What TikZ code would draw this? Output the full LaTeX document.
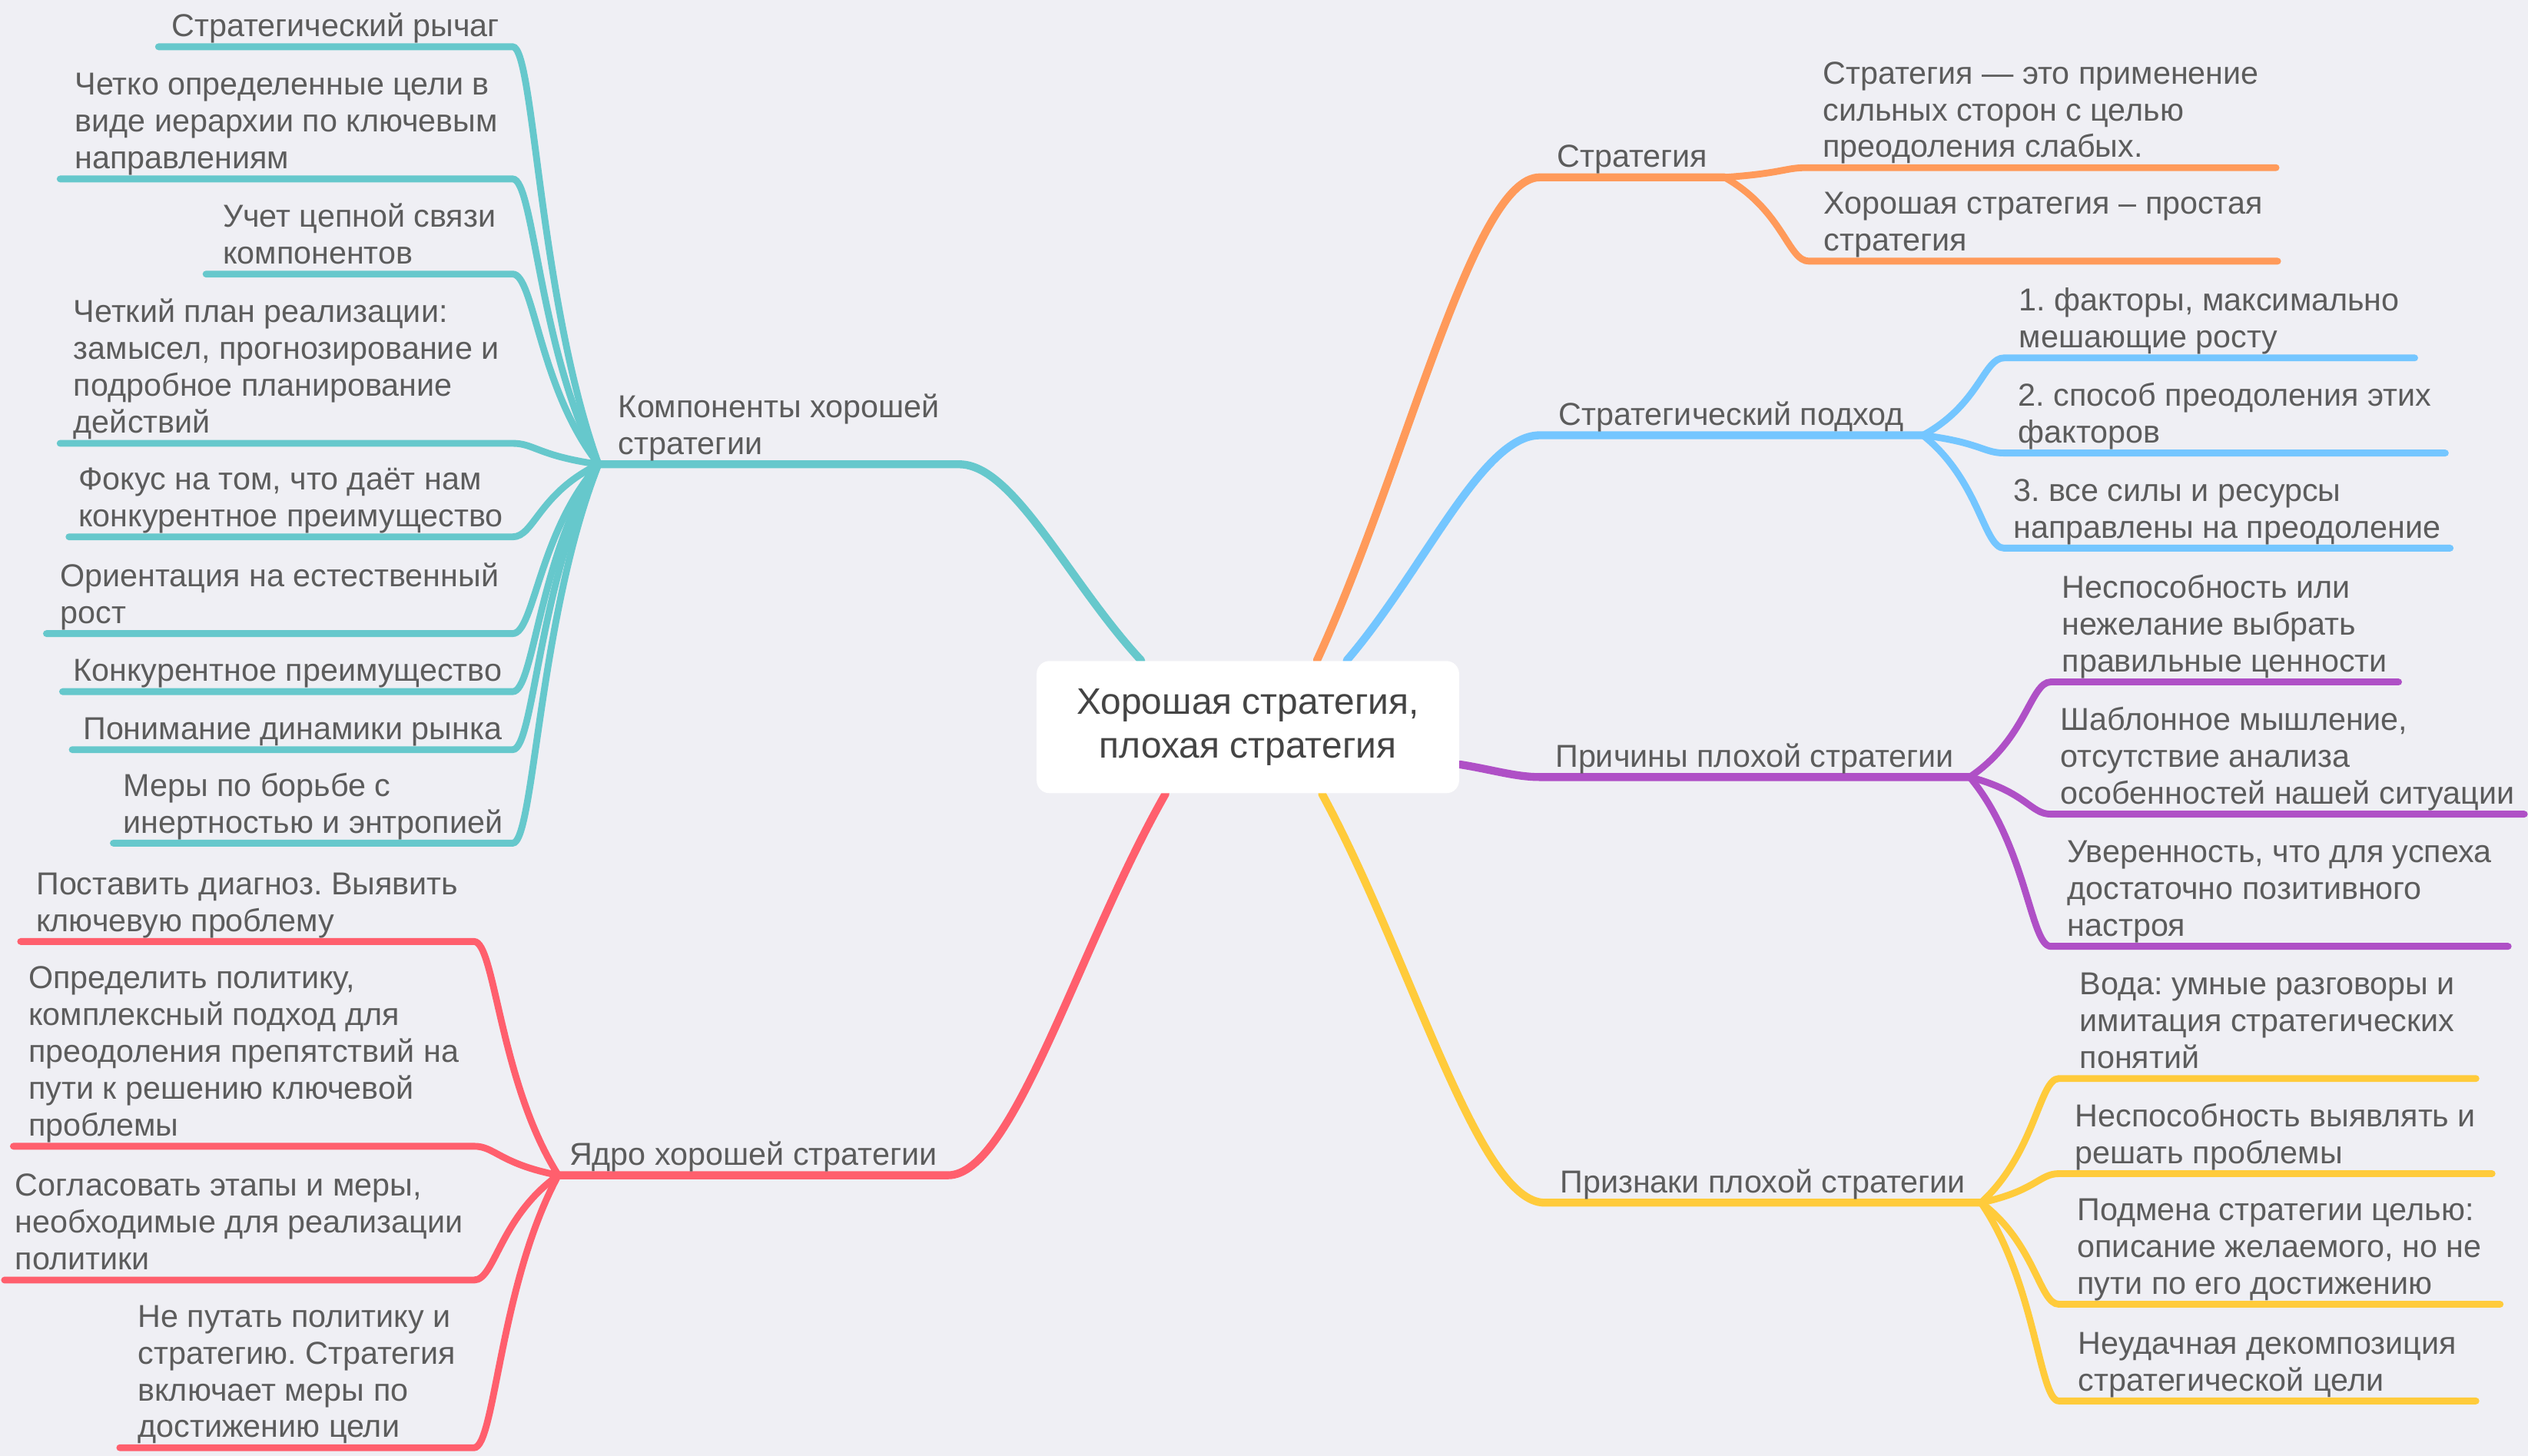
\documentclass[tikz,border=0pt]{standalone}
\usepackage{fontspec}
\setmainfont{Liberation Sans}
\usetikzlibrary{calc,backgrounds}
\definecolor{mmback}{HTML}{EFEFF4}
\definecolor{mmtext}{HTML}{5C5C5C}
\definecolor{mmroot}{HTML}{444444}
\definecolor{mmteal}{HTML}{66C8CC}
\definecolor{mmorange}{HTML}{FF9A5A}
\definecolor{mmblue}{HTML}{74C6FF}
\definecolor{mmpurple}{HTML}{AF50C6}
\definecolor{mmred}{HTML}{FF5F6D}
\definecolor{mmyellow}{HTML}{FFCB3B}
\frenchspacing

\begin{document}
\begin{tikzpicture}[x=0.2mm,y=-0.2mm,
  root/.style={fill=white,rounded corners=4.5pt,minimum width=5.24cm,minimum height=1.64cm,align=center,text=mmroot,font=\fontsize{13}{15.6}\selectfont},
  topic/.style={align=left,inner xsep=0pt,inner ysep=0pt,text=mmtext,font=\fontsize{11.2}{13}\selectfont,execute at end node={\rule[-3.4pt]{0pt}{3.4pt}}},
  limb/.style={line width=2.8pt,line cap=round,to path={let \p1=(\tikztostart),\p2=(\tikztotarget) in .. controls ({\x1+0.4*(\x2-\x1)},{\y1+0.4*(\y2-\y1)}) and ({\x2-0.3*(\x2-\x1)},\y2) .. (\tikztotarget)}},
  twig/.style={line width=2.4pt,line cap=round,to path={let \p1=(\tikztostart),\p2=(\tikztotarget) in .. controls ({\x1+0.7*(\x2-\x1)},{\y1+0.4*(\y2-\y1)}) and ({\x2-0.25*(\x2-\x1)},\y2) .. (\tikztotarget)}}
]
\useasboundingbox (0,0) rectangle (1568,903);

% Centre
\node[root] (root) at (774,451) {Хорошая стратегия,\\плохая стратегия};

% Components (left, teal)
\node[topic,minimum width=4.46cm,anchor=south east] (comp) at (595,288) {Компоненты хорошей\\стратегии};
\node[topic,minimum width=4.38cm,anchor=south east] (t1) at (318,29) {Стратегический рычаг};
\node[topic,minimum width=5.60cm,anchor=south east] (t2) at (318,111) {Четко определенные цели в\\виде иерархии по ключевым\\направлениям};
\node[topic,minimum width=3.79cm,anchor=south east] (t3) at (318,170) {Учет цепной связи\\компонентов};
\node[topic,minimum width=5.60cm,anchor=south east] (t4) at (318,275) {Четкий план реализации:\\замысел, прогнозирование и\\подробное планирование\\действий};
\node[topic,minimum width=5.49cm,anchor=south east] (t5) at (318,333) {Фокус на том, что даёт нам\\конкурентное преимущество};
\node[topic,minimum width=5.77cm,anchor=south east] (t6) at (318,393) {Ориентация на естественный\\рост};
\node[topic,minimum width=5.57cm,anchor=south east] (t7) at (318,429) {Конкурентное преимущество};
\node[topic,minimum width=5.45cm,anchor=south east] (t8) at (318,465) {Понимание динамики рынка};
\node[topic,minimum width=4.94cm,anchor=south east] (t9) at (318,523) {Меры по борьбе с\\инертностью и энтропией};

% Core (left, red)
\node[topic,minimum width=4.82cm,anchor=south east] (core) at (588,729) {Ядро хорошей стратегии};
\node[topic,minimum width=5.61cm,anchor=south east] (r1) at (294,584) {Поставить диагноз. Выявить\\ключевую проблему};
\node[topic,minimum width=5.70cm,anchor=south east] (r2) at (294,711) {Определить политику,\\комплексный подход для\\преодоления препятствий на\\пути к решению ключевой\\проблемы};
\node[topic,minimum width=5.81cm,anchor=south east] (r3) at (294,794) {Согласовать этапы и меры,\\необходимые для реализации\\политики};
\node[topic,minimum width=4.38cm,anchor=south east] (r4) at (294,898) {Не путать политику и\\стратегию. Стратегия\\включает меры по\\достижению цели};

% Strategy (right, orange)
\node[topic,minimum width=2.28cm,anchor=south west] (str) at (955,110) {Стратегия};
\node[topic,minimum width=5.82cm,anchor=south west] (o1) at (1120,104) {Стратегия — это применение\\сильных сторон с целью\\преодоления слабых.};
\node[topic,minimum width=5.80cm,anchor=south west] (o2) at (1122,162) {Хорошая стратегия – простая\\стратегия};

% Approach (right, blue)
\node[topic,minimum width=4.74cm,anchor=south west] (app) at (955,270) {Стратегический подход};
\node[topic,minimum width=5.08cm,anchor=south west] (b1) at (1243,222) {1. факторы, максимально\\мешающие росту};
\node[topic,minimum width=5.46cm,anchor=south west] (b2) at (1243,281) {2. способ преодоления этих\\факторов};
\node[topic,minimum width=5.52cm,anchor=south west] (b3) at (1243,340) {3. все силы и ресурсы\\направлены на преодоление};

% Causes (right, purple)
\node[topic,minimum width=5.32cm,anchor=south west] (cause) at (955,482) {Причины плохой стратегии};
\node[topic,minimum width=4.30cm,anchor=south west] (p1) at (1272,423) {Неспособность или\\нежелание выбрать\\правильные ценности};
\node[topic,minimum width=5.86cm,anchor=south west] (p2) at (1272,505) {Шаблонное мышление,\\отсутствие анализа\\особенностей нашей ситуации};
\node[topic,minimum width=5.66cm,anchor=south west] (p3) at (1272,587) {Уверенность, что для успеха\\достаточно позитивного\\настроя};

% Signs (right, yellow)
\node[topic,minimum width=5.40cm,anchor=south west] (sign) at (958,746) {Признаки плохой стратегии};
\node[topic,minimum width=5.16cm,anchor=south west] (y1) at (1277,669) {Вода: умные разговоры и\\имитация стратегических\\понятий};
\node[topic,minimum width=5.36cm,anchor=south west] (y2) at (1277,728) {Неспособность выявлять и\\решать проблемы};
\node[topic,minimum width=5.46cm,anchor=south west] (y3) at (1277,809) {Подмена стратегии целью:\\описание желаемого, но не\\пути по его достижению};
\node[topic,minimum width=5.16cm,anchor=south west] (y4) at (1277,869) {Неудачная декомпозиция\\стратегической цели};

% Main branches
\begin{scope}[on background layer]
\fill[mmback] (0,0) rectangle (1568,903);
\draw[mmteal,limb] (root.148) to (comp.south east) -- (comp.south west);
\draw[mmred,limb] (root.-141) to (core.south east) -- (core.south west);
\draw[mmorange,limb] (root.44) to (str.south west) -- (str.south east);
\draw[mmblue,limb] (root.34) to (app.south west) -- (app.south east);
\draw[mmpurple,limb] (root.-10) to (cause.south west) -- (cause.south east);
\draw[mmyellow,limb] (root.-42) to (sign.south west) -- (sign.south east);
\end{scope}

% Sub-topics
\draw[mmteal,twig] (comp.south west) to (t1.south east) -- (t1.south west);
\draw[mmteal,twig] (comp.south west) to (t2.south east) -- (t2.south west);
\draw[mmteal,twig] (comp.south west) to (t3.south east) -- (t3.south west);
\draw[mmteal,twig] (comp.south west) to (t4.south east) -- (t4.south west);
\draw[mmteal,twig] (comp.south west) to (t5.south east) -- (t5.south west);
\draw[mmteal,twig] (comp.south west) to (t6.south east) -- (t6.south west);
\draw[mmteal,twig] (comp.south west) to (t7.south east) -- (t7.south west);
\draw[mmteal,twig] (comp.south west) to (t8.south east) -- (t8.south west);
\draw[mmteal,twig] (comp.south west) to (t9.south east) -- (t9.south west);

\draw[mmred,twig] (core.south west) to (r1.south east) -- (r1.south west);
\draw[mmred,twig] (core.south west) to (r2.south east) -- (r2.south west);
\draw[mmred,twig] (core.south west) to (r3.south east) -- (r3.south west);
\draw[mmred,twig] (core.south west) to (r4.south east) -- (r4.south west);

\draw[mmorange,twig] (str.south east) to (o1.south west) -- (o1.south east);
\draw[mmorange,twig] (str.south east) to (o2.south west) -- (o2.south east);

\draw[mmblue,twig] (app.south east) to (b1.south west) -- (b1.south east);
\draw[mmblue,twig] (app.south east) to (b2.south west) -- (b2.south east);
\draw[mmblue,twig] (app.south east) to (b3.south west) -- (b3.south east);

\draw[mmpurple,twig] (cause.south east) to (p1.south west) -- (p1.south east);
\draw[mmpurple,twig] (cause.south east) to (p2.south west) -- (p2.south east);
\draw[mmpurple,twig] (cause.south east) to (p3.south west) -- (p3.south east);

\draw[mmyellow,twig] (sign.south east) to (y1.south west) -- (y1.south east);
\draw[mmyellow,twig] (sign.south east) to (y2.south west) -- (y2.south east);
\draw[mmyellow,twig] (sign.south east) to (y3.south west) -- (y3.south east);
\draw[mmyellow,twig] (sign.south east) to (y4.south west) -- (y4.south east);
\end{tikzpicture}
\end{document}
